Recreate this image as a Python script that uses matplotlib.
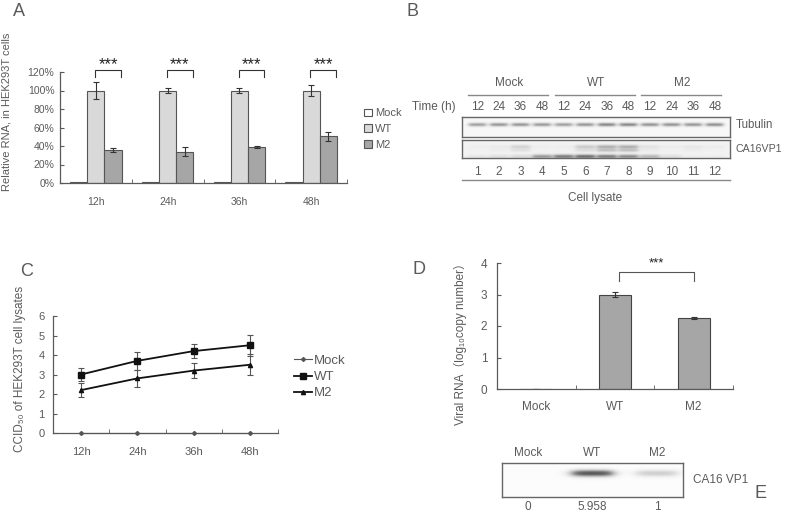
import numpy as np
import matplotlib
matplotlib.use('Agg')
import matplotlib.pyplot as plt
from matplotlib.patches import Patch
from matplotlib.lines import Line2D
from matplotlib.transforms import blended_transform_factory as blend

# ---------------- data ----------------
# Panel A
a_times = ['12h', '24h', '36h', '48h']
a_series = ['Mock', 'WT', 'M2']
a_mock = [0.6, 0.6, 0.6, 0.6]
a_wt = [100, 100, 100, 100]
a_wt_err = [9.5, 3, 3, 6]
a_m2 = [35.5, 34, 39, 50.5]
a_m2_err = [2.5, 5, 1.5, 5]
a_yticks = [0, 20, 40, 60, 80, 100, 120]
a_sig = ['***', '***', '***', '***']

# Panel B (western blot)
b_groups = ['Mock', 'WT', 'M2']
b_times = ['12', '24', '36', '48']
b_lanes = [str(i) for i in range(1, 13)]
b_tubulin = [0.42, 0.45, 0.45, 0.44, 0.42, 0.45, 0.5, 0.5, 0.46, 0.46, 0.45, 0.47]
b_vp1_upper = [0.04, 0.06, 0.18, 0.04, 0.04, 0.22, 0.33, 0.33, 0.1, 0.05, 0.08, 0.05]
b_vp1_lower = [0.02, 0.04, 0.1, 0.02, 0.02, 0.12, 0.25, 0.25, 0.05, 0.02, 0.04, 0.02]
b_vp1_smear = [0.08, 0.12, 0.15, 0.4, 0.5, 0.55, 0.5, 0.45, 0.3, 0.12, 0.04, 0.04]

# Panel C
c_times = ['12h', '24h', '36h', '48h']
c_mock = [0, 0, 0, 0]
c_wt = [3.0, 3.7, 4.2, 4.5]
c_wt_err = [0.35, 0.45, 0.35, 0.55]
c_m2 = [2.2, 2.8, 3.2, 3.5]
c_m2_err = [0.35, 0.45, 0.4, 0.55]

# Panel D
d_cats = ['Mock', 'WT', 'M2']
d_vals = [0, 3.0, 2.25]
d_err = [0, 0.08, 0.04]

# Panel E (western blot)
e_lanes = ['Mock', 'WT', 'M2']
e_band = [0.0, 0.72, 0.28]
e_quant = ['0', '5.958', '1']

# ---------------- style ----------------
W, H = 787, 516
plt.rcParams['font.family'] = ['Liberation Sans', 'DejaVu Sans', 'Noto Sans CJK SC']
TXT = '#5a5a5a'
SP = '#5a5a5a'
EDGE = '#555555'

fig = plt.figure(figsize=(W / 100, H / 100), dpi=100)


def px_axes(l, t, r, b):
    return fig.add_axes([l / W, 1 - b / H, (r - l) / W, (b - t) / H])


def ftext(x, y, s, **kw):
    kw.setdefault('color', TXT)
    return fig.text(x / W, 1 - y / H, s, **kw)


def excel_axes(ax, fs=7.5, ypad=5, xpad=10):
    for s in ['top', 'right']:
        ax.spines[s].set_visible(False)
    for s in ['left', 'bottom']:
        ax.spines[s].set_color(SP)
        ax.spines[s].set_linewidth(0.9)
    ax.tick_params(axis='y', direction='in', length=3, color=SP,
                   labelcolor=TXT, labelsize=fs, pad=ypad)
    ax.tick_params(axis='x', which='major', length=0, labelcolor=TXT,
                   labelsize=fs, pad=xpad)
    ax.tick_params(axis='x', which='minor', direction='in', length=3, color=SP)


def blot(ax, centers, bands, bg, halfw, nx=600, ny=80):
    x0, x1 = ax.get_xlim()
    xs = np.linspace(x0, x1, nx)
    ys = np.linspace(0, 1, ny)
    X, Y = np.meshgrid(xs, ys)
    D = np.full_like(X, bg)
    for inten, yc, sy in bands:
        for c, v in zip(centers, inten):
            fx = 1 / (1 + np.exp((np.abs(X - c) - halfw) / 0.06))
            D += v * fx * np.exp(-((Y - yc) / sy) ** 2)
    D = np.clip(D, 0, 1)
    ax.imshow(D, cmap='Greys', vmin=0, vmax=1, extent=(x0, x1, 0, 1),
              origin='lower', aspect='auto', interpolation='bilinear')
    ax.set_ylim(0, 1)
    ax.set_xticks([])
    ax.set_yticks([])
    for s in ax.spines.values():
        s.set_color('#666666')
        s.set_linewidth(1.0)


ek = dict(ecolor='#333333', elinewidth=0.8, capsize=2, capthick=0.8)

# ---------------- Panel A ----------------
axA = px_axes(60, 72, 347, 183)
xa = np.arange(len(a_times))
w = 0.24
axA.bar(xa - w, a_mock, w, color='white', edgecolor=EDGE, lw=0.8, label=a_series[0])
axA.bar(xa, a_wt, w, yerr=a_wt_err, color='#d9d9d9', edgecolor=EDGE, lw=0.8,
        error_kw=ek, label=a_series[1])
axA.bar(xa + w, a_m2, w, yerr=a_m2_err, color='#a6a6a6', edgecolor=EDGE, lw=0.8,
        error_kw=ek, label=a_series[2])
axA.set_xlim(-0.5, 3.5)
axA.set_ylim(0, 120)
axA.set_yticks(a_yticks)
axA.set_yticklabels([f'{v}%' for v in a_yticks])
axA.set_xticks(xa)
axA.set_xticklabels(a_times)
axA.set_xticks([0.5, 1.5, 2.5, 3.5], minor=True)
excel_axes(axA, fs=7.5, ypad=4, xpad=10)
for i, s in zip(xa, a_sig):
    axA.plot([i - 0.01, i - 0.01, i + 0.35, i + 0.35], [115, 122, 122, 115],
             color='#333333', lw=0.8, clip_on=False)
    axA.text(i + 0.17, 127.5, s, ha='center', va='center', fontsize=12,
             color='#222222', clip_on=False)
axA.legend(handles=[Patch(facecolor='white', edgecolor=EDGE, lw=0.8),
                    Patch(facecolor='#d9d9d9', edgecolor=EDGE, lw=0.8),
                    Patch(facecolor='#a6a6a6', edgecolor=EDGE, lw=0.8)],
           labels=a_series, loc='center left',
           bbox_to_anchor=(364 / W, 1 - 129 / H), bbox_transform=fig.transFigure,
           frameon=False, handlelength=0.7, handleheight=0.7, handletextpad=0.3,
           labelspacing=0.5, fontsize=8, labelcolor=TXT, borderaxespad=0,
           borderpad=0)
ftext(7, 112, 'Relative RNA, in HEK293T cells', rotation=90, ha='center',
      va='center', fontsize=8)
ftext(19, 11, 'A', ha='center', va='center', fontsize=13)

# ---------------- Panel B ----------------
lanes = np.arange(12)
axT = px_axes(462, 117, 730, 137)
axT.set_xlim(-0.7, 11.7)
blot(axT, lanes, [(b_tubulin, 0.62, 0.1)], 0.06, 0.42)
axV = px_axes(462, 140, 730, 158)
axV.set_xlim(-0.7, 11.7)
blot(axV, lanes, [(b_vp1_upper, 0.62, 0.12), (b_vp1_lower, 0.42, 0.09),
                  (b_vp1_smear, 0.08, 0.12)], 0.1, 0.46)
trT = blend(axT.transData, fig.transFigure)
for g, name in enumerate(b_groups):
    xc = g * 4 + 1.5
    axT.text(xc, 1 - 83 / H, name, transform=trT, ha='center', va='center',
             fontsize=8.5, color=TXT)
    axT.plot([g * 4 - 0.4, g * 4 + 3.3], [1 - 95 / H] * 2, transform=trT,
             color='#888888', lw=1.0, clip_on=False)
    for k, t in enumerate(b_times):
        axT.text(g * 4 + k, 1 - 107 / H, t, transform=trT, ha='center',
                 va='center', fontsize=8.5, color=TXT)
for l, s in zip(lanes, b_lanes):
    axT.text(l, 1 - 172 / H, s, transform=trT, ha='center', va='center',
             fontsize=8.5, color=TXT)
trTa = blend(axT.transAxes, fig.transFigure)
axT.plot([0, 1], [1 - 180 / H] * 2, transform=trTa, color='#888888', lw=1.0,
         clip_on=False)
ftext(434, 107, 'Time (h)', ha='center', va='center', fontsize=8.5)
ftext(736, 125, 'Tubulin', ha='left', va='center', fontsize=8.3)
ftext(735, 149, 'CA16VP1', ha='left', va='center', fontsize=7.7)
ftext(595, 198, 'Cell lysate', ha='center', va='center', fontsize=8.5)
ftext(412, 11, 'B', ha='center', va='center', fontsize=13)

# ---------------- Panel C ----------------
axC = px_axes(53, 316, 278, 433)
xc_ = np.arange(len(c_times))
axC.plot(xc_, c_mock, marker='D', ms=2, color='#555555', lw=0.8,
         clip_on=False, zorder=3)
axC.errorbar(xc_, c_wt, yerr=c_wt_err, color='#111111', marker='s', ms=4.5,
             lw=1.3, ecolor='#555555', elinewidth=0.8, capsize=2, capthick=0.8)
axC.errorbar(xc_, c_m2, yerr=c_m2_err, color='#111111', marker='^', ms=3,
             lw=1.3, ecolor='#555555', elinewidth=0.8, capsize=2, capthick=0.8)
axC.set_xlim(-0.5, 3.5)
axC.set_ylim(0, 6)
axC.set_yticks(range(0, 7))
axC.set_xticks(xc_)
axC.set_xticklabels(c_times)
axC.set_xticks([0.5, 1.5, 2.5, 3.5], minor=True)
excel_axes(axC, fs=8, ypad=6, xpad=10)
axC.legend(handles=[Line2D([], [], color='#555555', marker='D', ms=2, lw=0.8),
                    Line2D([], [], color='#111111', marker='s', ms=4.5, lw=1.3),
                    Line2D([], [], color='#111111', marker='^', ms=3, lw=1.3)],
           labels=['Mock', 'WT', 'M2'], loc='center left',
           bbox_to_anchor=(294 / W, 1 - 377 / H), bbox_transform=fig.transFigure,
           frameon=False, handlelength=1.4, handletextpad=0.1, labelspacing=0.3,
           fontsize=9.5, labelcolor=TXT, borderaxespad=0, borderpad=0)
ftext(20, 369, 'CCID₅₀ of HEK293T cell lysates', rotation=90, ha='center',
      va='center', fontsize=8.5)
ftext(27, 271, 'C', ha='center', va='center', fontsize=13)

# ---------------- Panel D ----------------
axD = px_axes(497, 263, 733, 389)
xd = np.arange(len(d_cats))
axD.bar(xd, d_vals, 0.41, yerr=d_err, color='#a6a6a6', edgecolor='#444444',
        lw=0.8, error_kw=ek)
axD.set_xlim(-0.5, 2.5)
axD.set_ylim(0, 4)
axD.set_yticks(range(0, 5))
axD.set_xticks(xd)
axD.set_xticklabels(d_cats)
axD.set_xticks([0.5, 1.5, 2.5], minor=True)
excel_axes(axD, fs=8.5, ypad=7, xpad=9)
axD.plot([1.05, 1.05, 2.0, 2.0], [3.43, 3.71, 3.71, 3.43], color='#555555',
         lw=0.8, clip_on=False)
axD.text(1.53, 3.98, '***', ha='center', va='center', fontsize=9.5,
         color='#222222', clip_on=False)
ftext(460, 341, 'Viral RNA（log₁₀copy number）', rotation=90, ha='center',
      va='center', fontsize=8.5)
ftext(419, 270, 'D', ha='center', va='center', fontsize=13)

# ---------------- Panel E ----------------
axE = px_axes(502, 463, 683, 497)
axE.set_xlim(-0.4, 2.4)
xe = np.arange(len(e_lanes))
blot(axE, xe, [(e_band, 0.7, 0.11)], 0.02, 0.33)
trE = blend(axE.transData, fig.transFigure)
for x_, lab, q in zip(xe, e_lanes, e_quant):
    axE.text(x_, 1 - 453 / H, lab, transform=trE, ha='center', va='center',
             fontsize=8.5, color=TXT)
    axE.text(x_, 1 - 507 / H, q, transform=trE, ha='center', va='center',
             fontsize=8.5, color=TXT)
ftext(693, 480, 'CA16 VP1', ha='left', va='center', fontsize=8.5)
ftext(760, 493, 'E', ha='center', va='center', fontsize=13)

fig.savefig('out.png', dpi=100)
